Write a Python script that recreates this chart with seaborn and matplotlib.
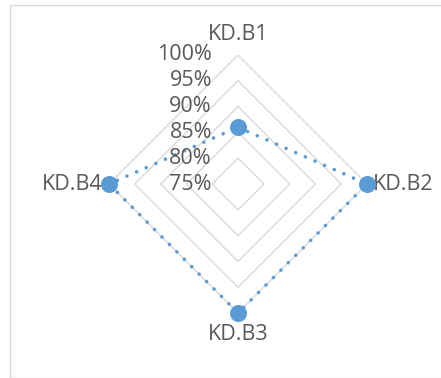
import numpy as np
import pandas as pd
import matplotlib.pyplot as plt
from matplotlib import transforms
from matplotlib.patches import Rectangle
import seaborn as sns

categories = ['KD.B1', 'KD.B2', 'KD.B3', 'KD.B4']
values = [86, 100, 100, 100]
ring_levels = [75, 80, 85, 90, 95, 100]
ring_labels = ['75%', '80%', '85%', '90%', '95%', '100%']

sns.set_theme(style='white')
plt.rcParams['font.family'] = ['Open Sans', 'DejaVu Sans']

TEXT = '#595959'
GRID = '#D9D9D9'
BLUE = '#5B9BD5'

fig = plt.figure(figsize=(4.41, 3.78), dpi=100)
fig.patches.append(Rectangle((9.5, 0.5), 460, 373, transform=transforms.IdentityTransform(),
                             fill=False, edgecolor=GRID, lw=1))

ax = fig.add_axes([109 / 441, 65 / 378, 258 / 441, 258 / 378], projection='polar')
ax.set_theta_offset(np.pi / 2)
ax.set_theta_direction(-1)
ax.set_ylim(ring_levels[0], ring_levels[-1])
ax.patch.set_alpha(0)

theta = np.linspace(0, 2 * np.pi, len(categories), endpoint=False)
closed = np.append(theta, 2 * np.pi)

# diamond gridlines
for lv in ring_levels[1:]:
    ax.plot(closed, [lv] * len(closed), color=GRID, lw=1, zorder=1)

df = pd.DataFrame({'theta': closed, 'value': values + values[:1]})
sns.lineplot(data=df, x='theta', y='value', sort=False, estimator=None, ax=ax,
             color=BLUE, lw=2.6, linestyle=(0, (0.01, 2.9)),
             dash_capstyle='round', clip_on=False, zorder=3)
sns.scatterplot(x=theta, y=values, ax=ax, s=150, color=BLUE, edgecolor=BLUE,
                linewidth=0, zorder=4, clip_on=False)

# radial value labels
lab_tr = transforms.offset_copy(ax.transData, fig=fig, x=-26, y=0, units='dots')
for lv, lab in zip(ring_levels, ring_labels):
    ax.text(0, lv, lab, transform=lab_tr, ha='right', va='center',
            fontsize=15.5, color=TEXT)

# category labels
for t, cat in zip(theta, categories):
    dx, dy = np.sin(t) * 6, np.cos(t) * 21
    ha = 'center' if abs(dx) < 1 else ('left' if dx > 0 else 'right')
    tr = transforms.offset_copy(ax.transData, fig=fig, x=dx, y=dy, units='dots')
    ax.text(t, ring_levels[-1], cat, transform=tr, ha=ha, va='center',
            fontsize=15.5, color=TEXT)

ax.set_xticks([])
ax.set_yticks([])
ax.spines['polar'].set_visible(False)
ax.grid(False)
ax.set_xlabel('')
ax.set_ylabel('')

fig.savefig('out.png', dpi=100)
